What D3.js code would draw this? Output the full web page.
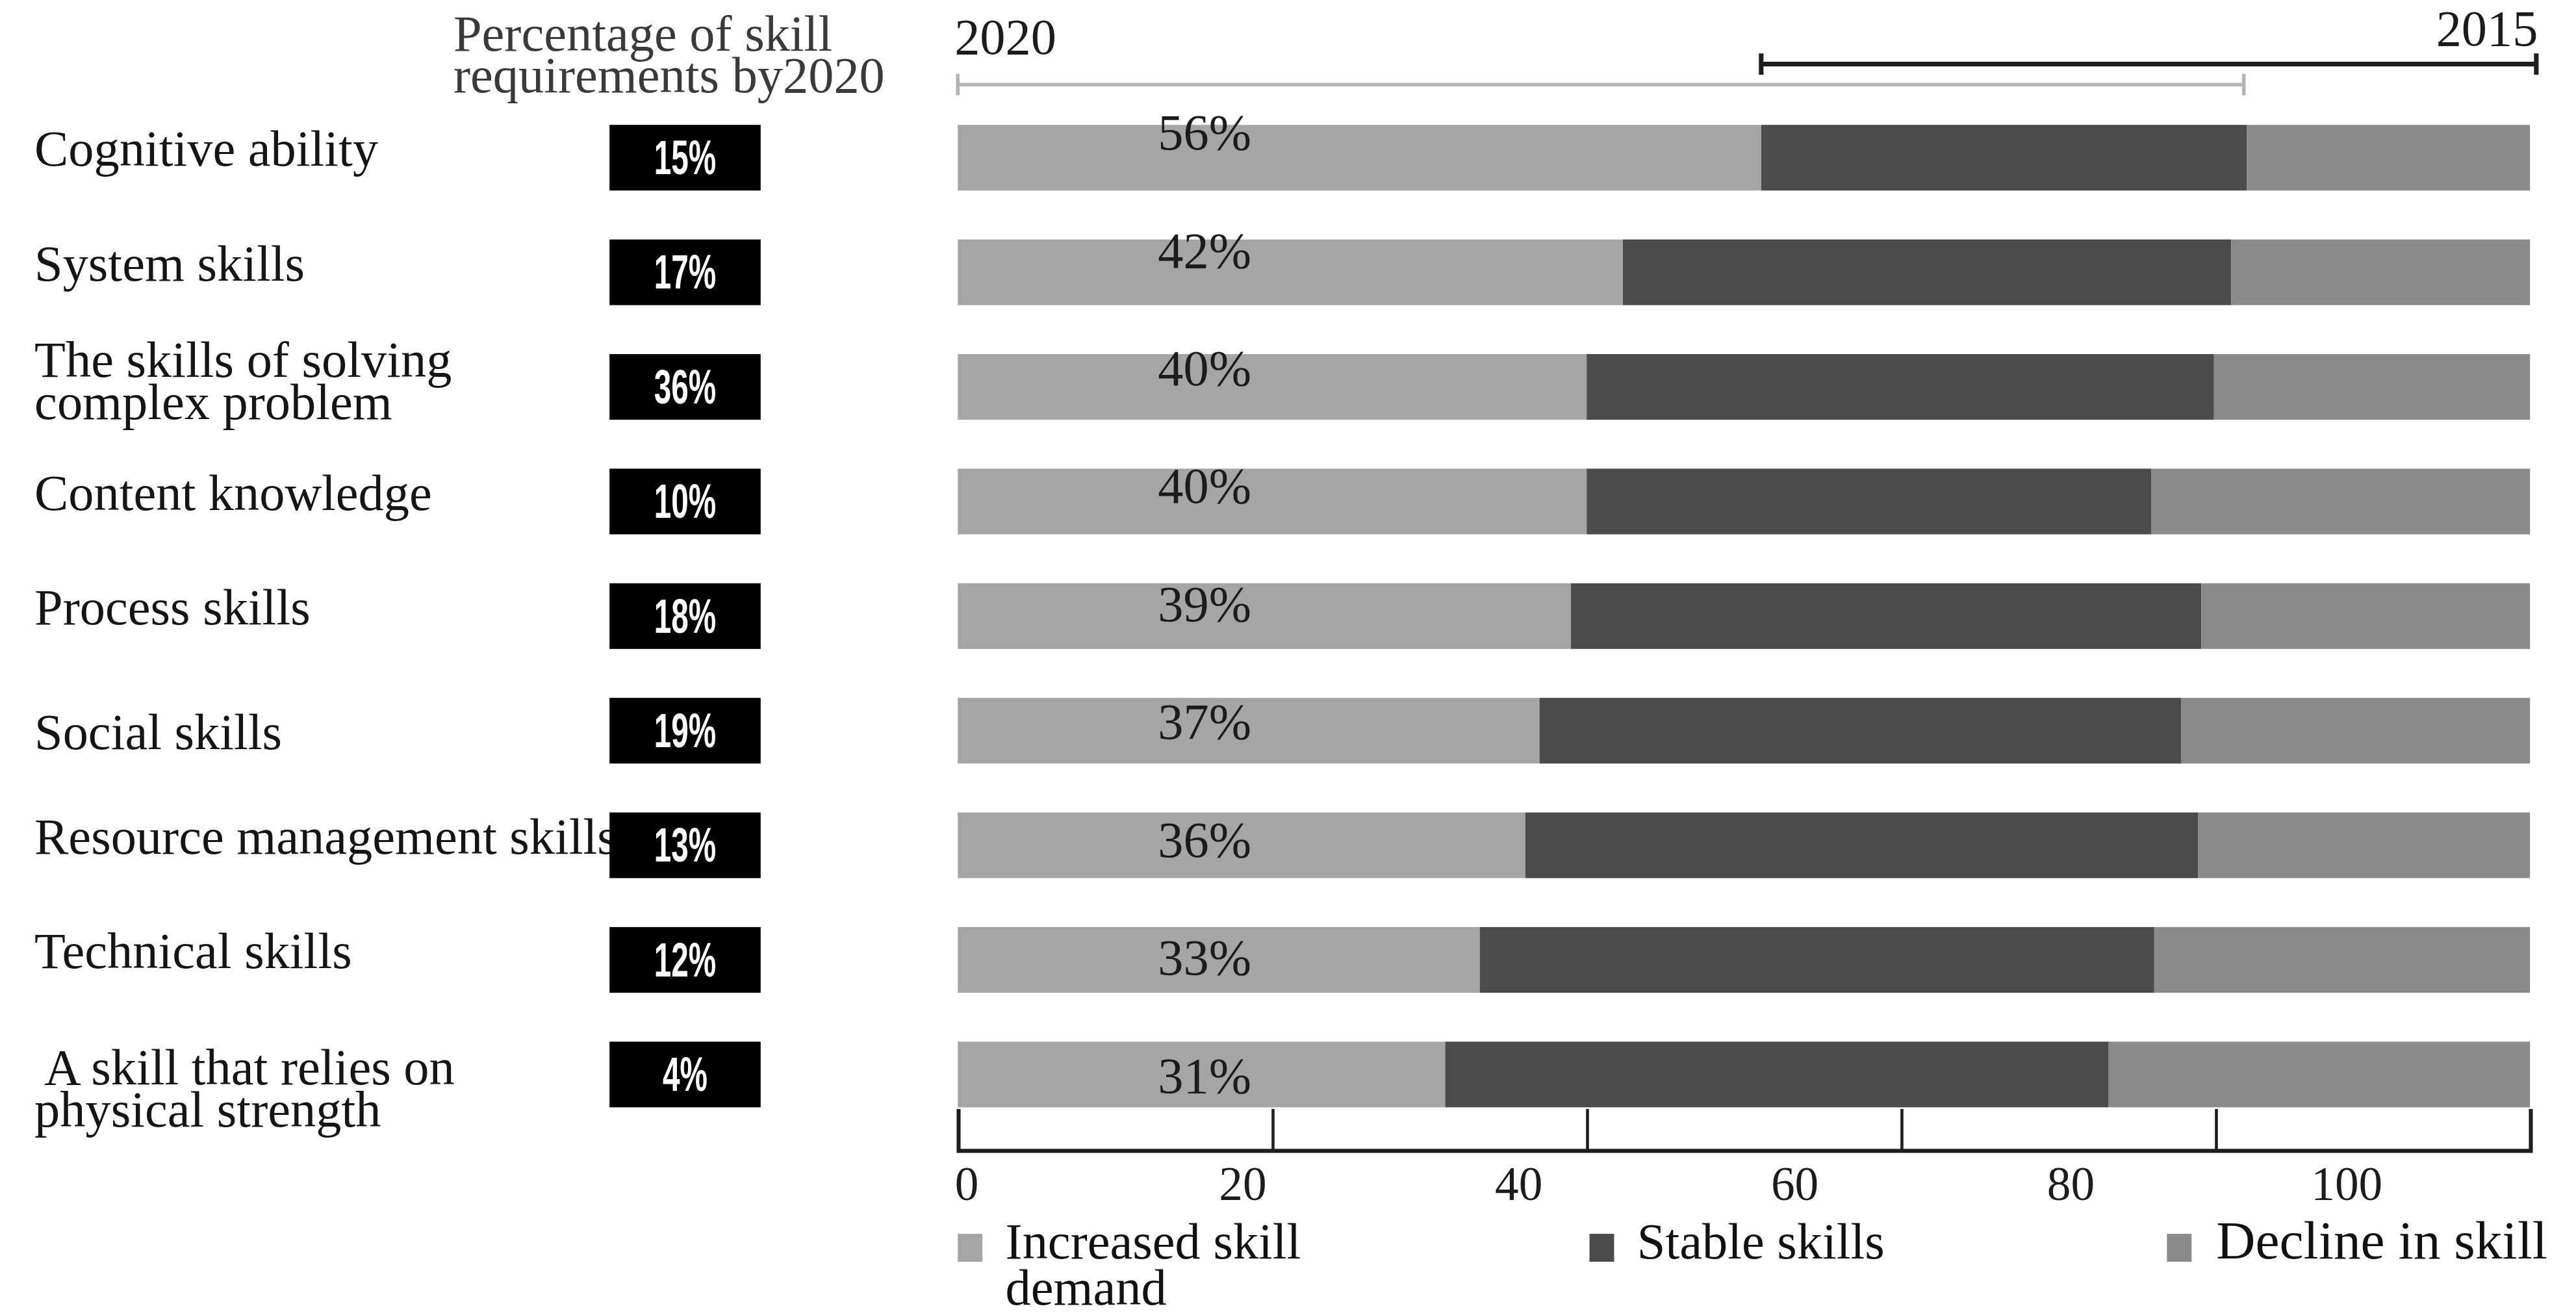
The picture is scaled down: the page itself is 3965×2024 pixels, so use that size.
<!DOCTYPE html>
<html>
<head>
<meta charset="utf-8">
<script src="https://cdn.jsdelivr.net/npm/d3@7"></script>
<style>
    html, body { margin: 0; padding: 0; background: #fff; }
    svg { display: block; }
    text { font-family: "Liberation Serif", "Times New Roman", serif; }
</style>
</head>
<body>
<div id="chart"></div>
<script>
// skill rows, top to bottom (each entry = lines of the label)
const categories = [
    ["Cognitive ability"],
    ["System skills"],
    ["The skills of solving", "complex problem"],
    ["Content knowledge"],
    ["Process skills"],
    ["Social skills"],
    ["Resource management skills"],
    ["Technical skills"],
    [" A skill that relies on", "physical strength"]
];

// black boxes: share of skill requirements by 2020
const requirement2020 = [15, 17, 36, 10, 18, 19, 13, 12, 4];

// stacked bar segments (percent of bar length, as drawn)
const increased = [51.1, 42.3, 40.0, 40.0, 39.0, 37.0, 36.1, 33.2, 31.0];
const stable    = [30.9, 38.7, 39.9, 35.9, 40.1, 40.8, 42.8, 42.9, 42.2];
const decline   = [18.0, 19.0, 20.1, 24.1, 20.9, 22.2, 21.1, 23.9, 26.8];

// printed labels on the light segment
const increasedLabels = [56, 42, 40, 40, 39, 37, 36, 33, 31];

const seriesNames = ["Increased skill demand", "Stable skills", "Decline in skill"];
const seriesColors = ["#a5a5a5", "#4b4b4b", "#8a8a8a"];

// the two year brackets above the bars
const bracketYears = ["2020", "2015"];
const bracketFrom = [0, 51.1];
const bracketTo = [81.8, 100.4];

const tickValues = [0, 20, 40, 60, 80, 100];

document.addEventListener('DOMContentLoaded', function() {
    const W = 1568, H = 800.4;

    const svg = d3.select('#chart')
        .append('svg')
        .attr('width', 3965)
        .attr('height', 2024)
        .attr('viewBox', `0 0 ${W} ${H}`);

    const keys = ['inc', 'sta', 'dec'];
    const rows = categories.map((c, i) => ({
        id: i, inc: increased[i], sta: stable[i], dec: decline[i]
    }));

    const x = d3.scaleLinear().domain([0, 100]).range([583, 1540]);
    const y = d3.scaleBand()
        .domain(rows.map(d => d.id))
        .range([76, 674])
        .paddingInner(0.427)
        .paddingOuter(0);

    // tick labels in the source sit left of their tick lines
    const tickLabelX = d3.scaleLinear().domain([0, 100]).range([588, 1428]);
    // percent labels drift down a little faster than the bars
    const pctY = d3.scaleLinear().domain([0, 8]).range([91, 665]);

    const color = d3.scaleOrdinal().domain(keys).range(seriesColors);

    // Stacked bars
    const stack = d3.stack().keys(keys);
    svg.append('g')
        .selectAll('g')
        .data(stack(rows))
        .enter()
        .append('g')
        .attr('fill', d => color(d.key))
        .selectAll('rect')
        .data(d => d)
        .enter()
        .append('rect')
        .attr('x', d => x(d[0]))
        .attr('y', d => y(d.data.id))
        .attr('width', d => x(d[1]) - x(d[0]))
        .attr('height', y.bandwidth());

    // Percent labels on the increased segment
    svg.append('g')
        .selectAll('text')
        .data(increasedLabels)
        .enter()
        .append('text')
        .attr('x', x(15.7))
        .attr('y', (d, i) => pctY(i))
        .attr('text-anchor', 'middle')
        .style('font-size', '31px')
        .style('fill', '#1c1c1c')
        .text(d => d + '%');

    // Row labels
    const labelNudge = [0, 0, 0, 0, 0, 6, 0, 0, 12];
    const labels = svg.append('g')
        .selectAll('text')
        .data(categories)
        .enter()
        .append('text')
        .attr('xml:space', 'preserve')
        .style('font-size', '31px')
        .style('fill', '#151515');
    labels.each(function(lines, i) {
        const top = y(i) + labelNudge[i];
        const first = lines.length > 1 ? top + 14 : top + 25;
        d3.select(this).selectAll('tspan')
            .data(lines)
            .enter()
            .append('tspan')
            .attr('x', 21)
            .attr('y', (l, j) => first + j * 25.5)
            .text(l => l);
    });

    // Black requirement boxes
    const boxes = svg.append('g')
        .selectAll('g')
        .data(requirement2020)
        .enter()
        .append('g');
    boxes.append('rect')
        .attr('x', 371)
        .attr('y', (d, i) => y(i))
        .attr('width', 92)
        .attr('height', y.bandwidth())
        .attr('fill', '#000');
    boxes.append('text')
        .attr('x', 417)
        .attr('y', (d, i) => y(i) + y.bandwidth() / 2 + 10)
        .attr('text-anchor', 'middle')
        .style('font-family', '"Liberation Sans", Arial, sans-serif')
        .style('font-weight', 'bold')
        .style('font-size', '29px')
        .style('fill', '#fff')
        .text(d => d + '%')
        .each(function() {
            const w = this.getComputedTextLength();
            d3.select(this)
                .attr('textLength', w * 0.65)
                .attr('lengthAdjust', 'spacingAndGlyphs');
        });

    // Header
    svg.append('text')
        .attr('x', 276)
        .style('font-size', '31px')
        .style('fill', '#3a3a3a')
        .selectAll('tspan')
        .data(["Percentage of skill", "requirements by2020"])
        .enter()
        .append('tspan')
        .attr('x', 276)
        .attr('y', (d, i) => 31 + i * 25)
        .text(d => d);

    // Year brackets
    const bracketY = [51.5, 39];
    const bracketStroke = ['#b4b4b4', '#1e1e1e'];
    const bracketWidth = [2.2, 2.8];
    bracketYears.forEach((yr, i) => {
        const g = svg.append('g')
            .attr('stroke', bracketStroke[i])
            .attr('stroke-width', bracketWidth[i]);
        g.append('line')
            .attr('x1', x(bracketFrom[i])).attr('x2', x(bracketTo[i]))
            .attr('y1', bracketY[i]).attr('y2', bracketY[i]);
        [bracketFrom[i], bracketTo[i]].forEach(v => {
            g.append('line')
                .attr('x1', x(v)).attr('x2', x(v))
                .attr('y1', bracketY[i] - 6.5).attr('y2', bracketY[i] + 6.5);
        });
    });
    svg.append('text')
        .attr('x', x(bracketFrom[0]) - 2)
        .attr('y', 33)
        .style('font-size', '31px')
        .style('fill', '#1c1c1c')
        .text(bracketYears[0]);
    svg.append('text')
        .attr('x', x(bracketTo[1]) + 1)
        .attr('y', 27.5)
        .attr('text-anchor', 'end')
        .style('font-size', '31px')
        .style('fill', '#1c1c1c')
        .text(bracketYears[1]);

    // Bottom axis drawn as an open box under the last bar
    const axis = d3.axisBottom(x)
        .tickValues(tickValues)
        .tickSizeInner(-25)
        .tickSizeOuter(-25)
        .tickPadding(10);
    const axisG = svg.append('g')
        .attr('transform', 'translate(0,700)')
        .call(axis);
    axisG.select('.domain')
        .attr('stroke', '#1e1e1e')
        .attr('stroke-width', 2.4);
    axisG.selectAll('.tick line')
        .attr('stroke', '#1e1e1e')
        .attr('stroke-width', 1.8);
    axisG.selectAll('.tick text')
        .attr('x', d => tickLabelX(d) - x(d))
        .attr('fill', '#1c1c1c')
        .style('font-family', '"Liberation Serif", "Times New Roman", serif')
        .style('font-size', '29px');

    // Legend
    const legendX = [583, 967.5, 1319];
    const legendSize = [31, 31, 33];
    const legendLines = [["Increased skill", "demand"], ["Stable skills"], ["Decline in skill"]];
    const legend = svg.append('g')
        .selectAll('g')
        .data(seriesNames)
        .enter()
        .append('g');
    legend.append('rect')
        .attr('x', (d, i) => legendX[i])
        .attr('y', 751)
        .attr('width', 15)
        .attr('height', 17)
        .attr('fill', (d, i) => seriesColors[i]);
    legend.append('text')
        .style('font-size', (d, i) => legendSize[i] + 'px')
        .style('fill', '#111')
        .each(function(d, i) {
            d3.select(this).selectAll('tspan')
                .data(legendLines[i])
                .enter()
                .append('tspan')
                .attr('x', legendX[i] + (i === 2 ? 30 : 29))
                .attr('y', (l, j) => 766 + j * 28)
                .text(l => l);
        });
});
</script>
</body>
</html>
